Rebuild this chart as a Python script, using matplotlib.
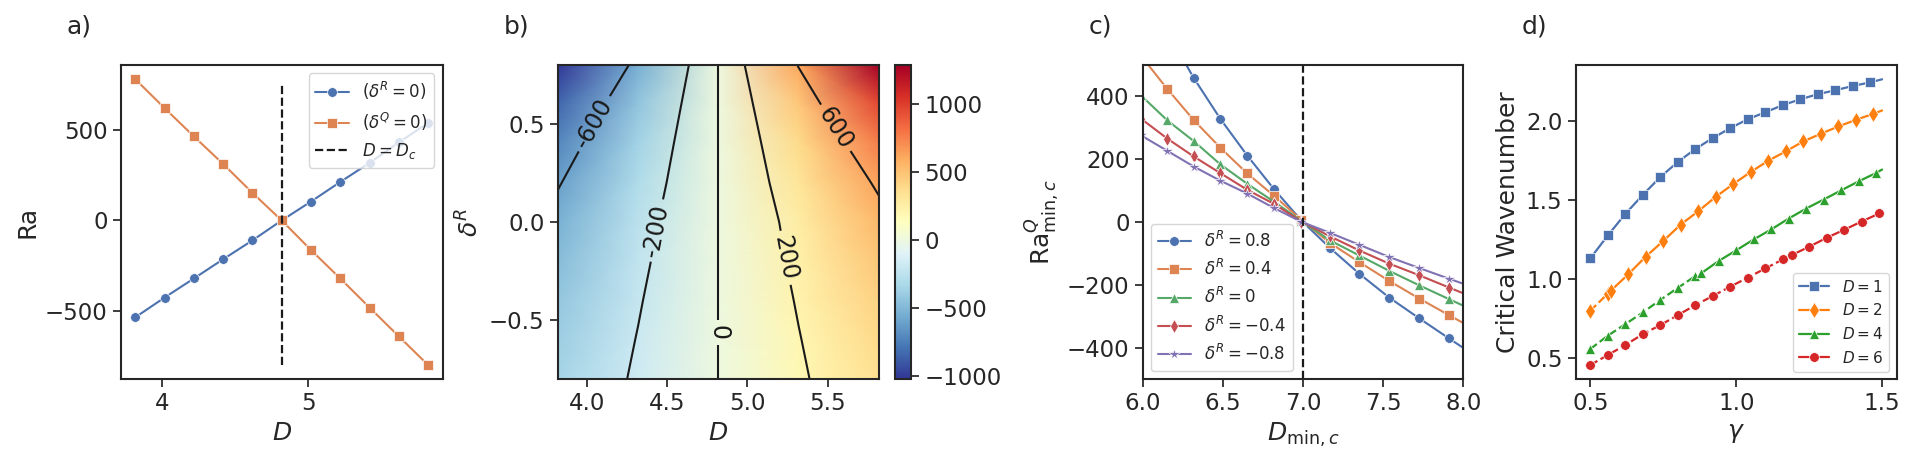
import matplotlib
matplotlib.use("Agg")
import matplotlib.pyplot as plt
import numpy as np
import seaborn as sns

sns.set_theme(style="ticks", font_scale=1.5)
plt.rcParams['font.family'] = ['DejaVu Sans']
plt.rcParams['mathtext.fontset'] = 'dejavusans'
plt.rcParams['contour.negative_linestyle'] = 'solid'

# ---------------- data: panel a ----------------
D_a = [3.82, 4.02, 4.22, 4.42, 4.62, 4.82, 5.02, 5.22, 5.42, 5.62, 5.82]
Ra_dR0 = [-534, -425, -320, -214, -110, 0, 104, 212, 317, 430, 537]
Ra_dQ0 = [778, 619, 463, 311, 152, 0, -163, -320, -480, -639, -797]
D_c = 4.82
vline_span = [-795, 760]

# ---------------- data: panel b ----------------
D_grid = [3.82, 4.32, 4.82, 5.32, 5.82]
dR_grid = [-0.8, -0.6, -0.4, -0.2, 0.0, 0.2, 0.4, 0.6, 0.8]
Ra_field = [
    [-352, -176, 0, 176, 352],
    [-386, -193, 0, 193, 386],
    [-427, -213, 0, 213, 427],
    [-477, -238, 0, 238, 477],
    [-534, -267, 0, 264, 537],
    [-615, -310, 0, 314, 631],
    [-710, -361, 0, 374, 760],
    [-837, -434, 0, 464, 957],
    [-1025, -545, 0, 610, 1285],
]
contour_levels = [-600, -200, 0, 200, 600]
label_pos = [(4.05, 0.50), (4.42, -0.04), (4.82, -0.56), (5.25, -0.18), (5.57, 0.49)]

# ---------------- data: panel c ----------------
Dmin_c = [5.99, 6.153, 6.318, 6.484, 6.652, 6.819, 6.99, 7.168, 7.351, 7.538, 7.725, 7.911, 8.10]
Ra_c_08 = [770, 606, 459, 329, 212, 105, 5, -82, -164, -240, -306, -370, -434]
Ra_c_04 = [529, 424, 325, 237, 155, 84, 7, -66, -127, -187, -243, -296, -349]
Ra_c_0 = [403, 324, 258, 184, 122, 65, 4, -58, -106, -155, -201, -245, -289]
Ra_c_m04 = [329, 266, 209, 156, 103, 58, 2, -45, -90, -132, -169, -208, -247]
Ra_c_m08 = [276, 227, 177, 132, 91, 45, 1, -34, -72, -111, -146, -180, -214]
c_labels = [r'$\delta^R=0.8$', r'$\delta^R=0.4$', r'$\delta^R=0$',
            r'$\delta^R=-0.4$', r'$\delta^R=-0.8$']
c_markers = ['o', 's', '^', 'd', '*']

# ---------------- data: panel d ----------------
g_D1 = [0.50, 0.56, 0.62, 0.68, 0.74, 0.80, 0.86, 0.92, 0.98, 1.04, 1.10, 1.16,
        1.22, 1.28, 1.34, 1.40, 1.46, 1.50]
k_D1 = [1.131, 1.276, 1.412, 1.532, 1.645, 1.740, 1.822, 1.891, 1.954, 2.010, 2.054,
        2.099, 2.136, 2.168, 2.193, 2.220, 2.243, 2.262]
g_D2_u = [0.50, 0.56]
k_D2_u = [0.800, 0.909]
g_D2_s = [0.57, 0.63, 0.69, 0.75, 0.81, 0.87, 0.93, 0.99, 1.05, 1.11, 1.17, 1.23,
          1.29, 1.35, 1.41, 1.47, 1.50]
k_D2_s = [0.926, 1.031, 1.142, 1.241, 1.345, 1.429, 1.520, 1.601, 1.677, 1.748,
          1.807, 1.870, 1.918, 1.964, 2.006, 2.044, 2.065]
g_D4_u = [0.50, 0.56, 0.62, 0.68, 0.74, 0.80, 0.86]
k_D4_u = [0.559, 0.643, 0.716, 0.790, 0.869, 0.945, 1.020]
g_D4_s = [0.88, 0.94, 1.00, 1.06, 1.12, 1.18, 1.24, 1.30, 1.36, 1.42, 1.48, 1.50]
k_D4_s = [1.037, 1.115, 1.182, 1.251, 1.314, 1.383, 1.446, 1.503, 1.561, 1.618,
          1.671, 1.692]
g_D6_u = [0.50, 0.56, 0.62, 0.68, 0.74, 0.80, 0.86, 0.92, 0.98, 1.04, 1.10, 1.16]
k_D6_u = [0.458, 0.521, 0.584, 0.653, 0.710, 0.773, 0.836, 0.894, 0.953, 1.010,
          1.068, 1.125]
g_D6_s = [1.19, 1.25, 1.31, 1.37, 1.43, 1.49]
k_D6_s = [1.152, 1.205, 1.261, 1.312, 1.364, 1.415]

deep = sns.color_palette('deep')
W, H = 1911, 461
fig = plt.figure(figsize=(W / 100, H / 100), dpi=100)

def px_axes(l, r, t=65, b=379.3):
    return fig.add_axes([l / W, 1 - b / H, (r - l) / W, (b - t) / H])

ax_a = px_axes(120.7, 442.7)
ax_b = px_axes(557.7, 879)
cax = px_axes(895, 911)
ax_c = px_axes(1142.7, 1463.3)
ax_d = px_axes(1575.7, 1896.7)

mk = dict(mec='white', mew=0.5)

# ---- panel a
ax_a.plot(D_a, Ra_dR0, '-o', color=deep[0], lw=1.5, ms=7, label=r'$(\delta^R=0)$', **mk)
ax_a.plot(D_a, Ra_dQ0, '-s', color=deep[1], lw=1.5, ms=7, label=r'$(\delta^Q=0)$', **mk)
ax_a.vlines(D_c, vline_span[0], vline_span[1], colors='k', linestyles='--', lw=1.6,
            label=r'$D=D_c$')
ax_a.set_xlabel(r'$D$')
ax_a.set_ylabel('Ra')
ax_a.legend(loc='upper right', fontsize=12)

# ---- panel b
DD, RR = np.meshgrid(D_grid, dR_grid)
Z = np.array(Ra_field, dtype=float)
pm = ax_b.pcolormesh(DD, RR, Z, cmap='RdYlBu_r', shading='gouraud')
cs = ax_b.contour(DD, RR, Z, levels=contour_levels, colors='k', linewidths=1.5,
                  linestyles='solid')
ax_b.clabel(cs, fmt='%1.0f', fontsize=17, inline=True, manual=label_pos)
ax_b.set_xlim(D_grid[0], D_grid[-1])
ax_b.set_ylim(dR_grid[0], dR_grid[-1])
ax_b.set_xticks([4.0, 4.5, 5.0, 5.5])
ax_b.set_yticks([-0.5, 0.0, 0.5])
ax_b.set_xlabel(r'$D$')
ax_b.set_ylabel(r'$\delta^R$')
cb = fig.colorbar(pm, cax=cax)
cb.set_ticks([-1000, -500, 0, 500, 1000])

# ---- panel c
for ys, col, m, lab in zip([Ra_c_08, Ra_c_04, Ra_c_0, Ra_c_m04, Ra_c_m08],
                           deep[:5], c_markers, c_labels):
    ax_c.plot(Dmin_c, ys, '-', marker=m, color=col, lw=1.5,
              ms=(9 if m == '*' else 7), label=lab, **mk)
ax_c.axvline(7.0, color='k', ls='--', lw=1.6)
ax_c.set_xlim(6.0, 8.0)
ax_c.set_ylim(-500, 500)
ax_c.set_xticks([6.0, 6.5, 7.0, 7.5, 8.0])
ax_c.set_yticks([-400, -200, 0, 200, 400])
ax_c.set_xlabel(r'$D_{\min,c}$')
ax_c.set_ylabel(r'$\mathrm{Ra}^{Q}_{\min,c}$')
ax_c.legend(loc='lower left', fontsize=12)

# ---- panel d
c1, c2, c4, c6 = deep[0], 'tab:orange', 'tab:green', 'tab:red'
ax_d.plot(g_D1, k_D1, '-s', color=c1, lw=1.6, ms=7, markevery=slice(0, -1),
          label=r'$D=1$', **mk)
ax_d.plot(g_D2_u, k_D2_u, '--d', color=c2, lw=1.6, ms=8, **mk)
ax_d.plot(g_D2_s, k_D2_s, '-d', color=c2, lw=1.6, ms=8, markevery=slice(0, -1),
          label=r'$D=2$', **mk)
ax_d.plot(g_D4_u, k_D4_u, '--^', color=c4, lw=1.6, ms=7, **mk)
ax_d.plot(g_D4_s, k_D4_s, '-^', color=c4, lw=1.6, ms=7, markevery=slice(0, -1),
          label=r'$D=4$', **mk)
ax_d.plot(g_D6_u, k_D6_u, '--o', color=c6, lw=1.6, ms=7, **mk)
ax_d.plot(g_D6_s, k_D6_s, '-o', color=c6, lw=1.6, ms=7, label=r'$D=6$', **mk)
ax_d.set_xticks([0.5, 1.0, 1.5])
ax_d.set_yticks([0.5, 1.0, 1.5, 2.0])
ax_d.set_xlabel(r'$\gamma$')
ax_d.set_ylabel('Critical Wavenumber')
ax_d.legend(loc='lower right', fontsize=11)

for ax in (ax_a, ax_b, ax_c, ax_d):
    for s in ax.spines.values():
        s.set_linewidth(1.5)
cb.outline.set_linewidth(1.5)

for lab, xpx in zip(['a)', 'b)', 'c)', 'd)'], [67, 504, 1089, 1521.7]):
    fig.text(xpx / W, 1 - 33 / H, lab, fontsize=18, ha='left', va='baseline')

fig.savefig('out.png', dpi=100)
